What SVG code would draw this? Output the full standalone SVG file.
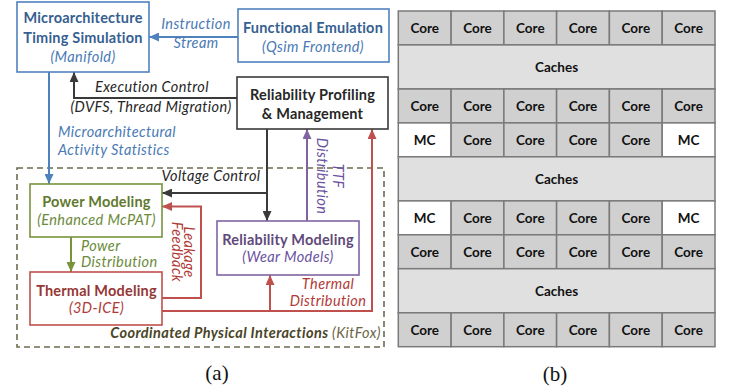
<svg xmlns="http://www.w3.org/2000/svg" width="731" height="389" viewBox="0 0 731 389">
<defs>
<style>
text{font-family:Lato,"Open Sans","Liberation Sans",sans-serif;}
.t{font-size:14.5px;font-weight:bold;text-anchor:middle;letter-spacing:0.2px;}
.i{font-size:14.5px;font-style:italic;letter-spacing:0.4px;}
.c{text-anchor:middle;}
.box{fill:#fff;stroke-width:1.6;}
.ln{fill:none;stroke-width:2;}
.blue{stroke:#4f81bd;}
.dark{stroke:#3a3a3a;}
.green{stroke:#77933c;}
.red{stroke:#c0504d;}
.purple{stroke:#8064a2;}
.cell{stroke:#7a7a7a;stroke-width:1.5;}
.core{fill:#d0d0d0;}
.cache{fill:#e0e0e0;}
.mc{fill:#ffffff;}
.g{font-size:13.5px;font-weight:bold;text-anchor:middle;fill:#111;}
.cap{font-family:"Liberation Serif",serif;font-size:21px;text-anchor:middle;fill:#111;}
</style>
<marker id="aBlue" viewBox="0 0 10 9" refX="10" refY="4.5" markerWidth="10" markerHeight="9" markerUnits="userSpaceOnUse" orient="auto"><path d="M0,0 L10,4.5 L0,9 z" fill="#4f81bd"/></marker>
<marker id="aDark" viewBox="0 0 10 9" refX="10" refY="4.5" markerWidth="10" markerHeight="9" markerUnits="userSpaceOnUse" orient="auto"><path d="M0,0 L10,4.5 L0,9 z" fill="#3a3a3a"/></marker>
<marker id="aGreen" viewBox="0 0 10 9" refX="10" refY="4.5" markerWidth="10" markerHeight="9" markerUnits="userSpaceOnUse" orient="auto"><path d="M0,0 L10,4.5 L0,9 z" fill="#77933c"/></marker>
<marker id="aRed" viewBox="0 0 10 9" refX="10" refY="4.5" markerWidth="10" markerHeight="9" markerUnits="userSpaceOnUse" orient="auto"><path d="M0,0 L10,4.5 L0,9 z" fill="#c0504d"/></marker>
<marker id="aPurple" viewBox="0 0 10 9" refX="10" refY="4.5" markerWidth="10" markerHeight="9" markerUnits="userSpaceOnUse" orient="auto"><path d="M0,0 L10,4.5 L0,9 z" fill="#8064a2"/></marker>
</defs>
<rect width="731" height="389" fill="#fff"/>

<g id="kitfox">
<rect x="17" y="168" width="367" height="179" fill="none" stroke="#6e6a4e" stroke-width="1.6" stroke-dasharray="6,4"/>
<text x="381" y="338" font-size="14.5px" font-style="italic" letter-spacing="0.4px" text-anchor="end"><tspan font-weight="bold" fill="#4a4526">Coordinated Physical Interactions </tspan><tspan fill="#6b6548">(KitFox)</tspan></text>
</g>

<g id="connectors">
<path class="ln blue" d="M238,37 H149" marker-end="url(#aBlue)"/>
<path class="ln dark" d="M237,98 H74 V72" marker-end="url(#aDark)"/>
<path class="ln blue" d="M49,72 V184" marker-end="url(#aBlue)"/>
<path class="ln dark" d="M267,129 V221" marker-end="url(#aDark)"/>
<path class="ln dark" d="M267,193 H162" marker-end="url(#aDark)"/>
<path class="ln purple" d="M307,221 V129" marker-end="url(#aPurple)"/>
<path class="ln green" d="M71,237 V272" marker-end="url(#aGreen)"/>
<path class="ln red" d="M162,298 H201 V206.5 H162" marker-end="url(#aRed)"/>
<path class="ln red" d="M162,311 H372 V129" marker-end="url(#aRed)"/>
<path class="ln red" d="M270,311 V275" marker-end="url(#aRed)"/>
<text class="i c" x="196" y="29" fill="#4a7ab5">Instruction</text>
<text class="i c" x="196" y="47.5" fill="#4a7ab5">Stream</text>
<text class="i" x="58" y="136.5" fill="#4a7ab5">Microarchitectural</text>
<text class="i" x="58" y="155" fill="#4a7ab5">Activity Statistics</text>
<text class="i c" x="152" y="91.5" fill="#262626">Execution Control</text>
<text class="i c" x="151" y="111.5" fill="#262626">(DVFS, Thread Migration)</text>
<text class="i c" x="211" y="181" fill="#262626">Voltage Control</text>
<text class="i" x="81" y="250.5" fill="#6b8a3a">Power</text>
<text class="i" x="81" y="267" fill="#6b8a3a">Distribution</text>
<text class="i c" x="328" y="289" fill="#b03a37">Thermal</text>
<text class="i c" x="328" y="305.5" fill="#b03a37">Distribution</text>
<text class="i c" transform="translate(333,176) rotate(90)" fill="#6a52a0">TTF</text>
<text class="i c" transform="translate(317,176) rotate(90)" fill="#6a52a0">Distribution</text>
<text class="i c" transform="translate(184,252) rotate(90)" fill="#b03a37">Leakage</text>
<text class="i c" transform="translate(172,252) rotate(90)" fill="#b03a37">Feedback</text>
</g>

<g id="microarch">
<rect class="box blue" x="17" y="2" width="132" height="70"/>
<text class="t" x="83" y="23" fill="#365f91">Microarchitecture</text>
<text class="t" x="83" y="42.5" fill="#365f91">Timing Simulation</text>
<text class="i c" x="83" y="61.5" fill="#4a7ab5">(Manifold)</text>
</g>
<g id="functional">
<rect class="box blue" x="238" y="9" width="151" height="53"/>
<text class="t" x="313" y="33" fill="#365f91">Functional Emulation</text>
<text class="i c" x="313" y="51.5" fill="#4a7ab5">(Qsim Frontend)</text>
</g>
<g id="profiling">
<rect class="box dark" x="237" y="77" width="151" height="52"/>
<text class="t" x="312.5" y="100" fill="#262626">Reliability Profiling</text>
<text class="t" x="312.5" y="118.5" fill="#262626">&amp; Management</text>
</g>
<g id="power">
<rect class="box green" x="30" y="184" width="132" height="53"/>
<text class="t" x="96.5" y="207" fill="#5f7a2e">Power Modeling</text>
<text class="i c" x="96.5" y="225" fill="#6b8a3a">(Enhanced McPAT)</text>
</g>
<g id="thermal">
<rect class="box red" x="30" y="272" width="132" height="53"/>
<text class="t" x="96.5" y="295.5" fill="#953735">Thermal Modeling</text>
<text class="i c" x="96.5" y="313" fill="#b03a37">(3D-ICE)</text>
</g>
<g id="reliability">
<rect class="box purple" x="217" y="221" width="142" height="54"/>
<text class="t" x="288" y="245" fill="#5f497a">Reliability Modeling</text>
<text class="i c" x="288" y="261.5" fill="#6a52a0">(Wear Models)</text>
</g>
<text class="cap" x="217" y="380">(a)</text>

<g id="floorplan">
<g class="cell">
<rect class="core" x="398.3" y="11" width="52.8" height="33.9"/><rect class="core" x="451.1" y="11" width="52.8" height="33.9"/><rect class="core" x="503.9" y="11" width="52.7" height="33.9"/><rect class="core" x="556.6" y="11" width="52.8" height="33.9"/><rect class="core" x="609.4" y="11" width="52.8" height="33.9"/><rect class="core" x="662.2" y="11" width="52.8" height="33.9"/>
<rect class="cache" x="398.3" y="44.9" width="316.7" height="44.1"/>
<rect class="core" x="398.3" y="89" width="52.8" height="33.9"/><rect class="core" x="451.1" y="89" width="52.8" height="33.9"/><rect class="core" x="503.9" y="89" width="52.7" height="33.9"/><rect class="core" x="556.6" y="89" width="52.8" height="33.9"/><rect class="core" x="609.4" y="89" width="52.8" height="33.9"/><rect class="core" x="662.2" y="89" width="52.8" height="33.9"/>
<rect class="mc" x="398.3" y="122.9" width="52.8" height="33.9"/><rect class="core" x="451.1" y="122.9" width="52.8" height="33.9"/><rect class="core" x="503.9" y="122.9" width="52.7" height="33.9"/><rect class="core" x="556.6" y="122.9" width="52.8" height="33.9"/><rect class="core" x="609.4" y="122.9" width="52.8" height="33.9"/><rect class="mc" x="662.2" y="122.9" width="52.8" height="33.9"/>
<rect class="cache" x="398.3" y="156.8" width="316.7" height="44.1"/>
<rect class="mc" x="398.3" y="200.9" width="52.8" height="33.9"/><rect class="core" x="451.1" y="200.9" width="52.8" height="33.9"/><rect class="core" x="503.9" y="200.9" width="52.7" height="33.9"/><rect class="core" x="556.6" y="200.9" width="52.8" height="33.9"/><rect class="core" x="609.4" y="200.9" width="52.8" height="33.9"/><rect class="mc" x="662.2" y="200.9" width="52.8" height="33.9"/>
<rect class="core" x="398.3" y="234.8" width="52.8" height="33.9"/><rect class="core" x="451.1" y="234.8" width="52.8" height="33.9"/><rect class="core" x="503.9" y="234.8" width="52.7" height="33.9"/><rect class="core" x="556.6" y="234.8" width="52.8" height="33.9"/><rect class="core" x="609.4" y="234.8" width="52.8" height="33.9"/><rect class="core" x="662.2" y="234.8" width="52.8" height="33.9"/>
<rect class="cache" x="398.3" y="268.7" width="316.7" height="44.1"/>
<rect class="core" x="398.3" y="312.8" width="52.8" height="33.9"/><rect class="core" x="451.1" y="312.8" width="52.8" height="33.9"/><rect class="core" x="503.9" y="312.8" width="52.7" height="33.9"/><rect class="core" x="556.6" y="312.8" width="52.8" height="33.9"/><rect class="core" x="609.4" y="312.8" width="52.8" height="33.9"/><rect class="core" x="662.2" y="312.8" width="52.8" height="33.9"/>
</g>
<g>
<text class="g" x="424.7" y="33">Core</text><text class="g" x="477.5" y="33">Core</text><text class="g" x="530.3" y="33">Core</text><text class="g" x="583" y="33">Core</text><text class="g" x="635.8" y="33">Core</text><text class="g" x="688.6" y="33">Core</text>
<text class="g" x="556.6" y="72">Caches</text>
<text class="g" x="424.7" y="111">Core</text><text class="g" x="477.5" y="111">Core</text><text class="g" x="530.3" y="111">Core</text><text class="g" x="583" y="111">Core</text><text class="g" x="635.8" y="111">Core</text><text class="g" x="688.6" y="111">Core</text>
<text class="g" x="424.7" y="145">MC</text><text class="g" x="477.5" y="145">Core</text><text class="g" x="530.3" y="145">Core</text><text class="g" x="583" y="145">Core</text><text class="g" x="635.8" y="145">Core</text><text class="g" x="688.6" y="145">MC</text>
<text class="g" x="556.6" y="184">Caches</text>
<text class="g" x="424.7" y="223">MC</text><text class="g" x="477.5" y="223">Core</text><text class="g" x="530.3" y="223">Core</text><text class="g" x="583" y="223">Core</text><text class="g" x="635.8" y="223">Core</text><text class="g" x="688.6" y="223">MC</text>
<text class="g" x="424.7" y="257">Core</text><text class="g" x="477.5" y="257">Core</text><text class="g" x="530.3" y="257">Core</text><text class="g" x="583" y="257">Core</text><text class="g" x="635.8" y="257">Core</text><text class="g" x="688.6" y="257">Core</text>
<text class="g" x="556.6" y="296">Caches</text>
<text class="g" x="424.7" y="335">Core</text><text class="g" x="477.5" y="335">Core</text><text class="g" x="530.3" y="335">Core</text><text class="g" x="583" y="335">Core</text><text class="g" x="635.8" y="335">Core</text><text class="g" x="688.6" y="335">Core</text>
</g>
</g>
<text class="cap" x="555" y="381">(b)</text>
</svg>
